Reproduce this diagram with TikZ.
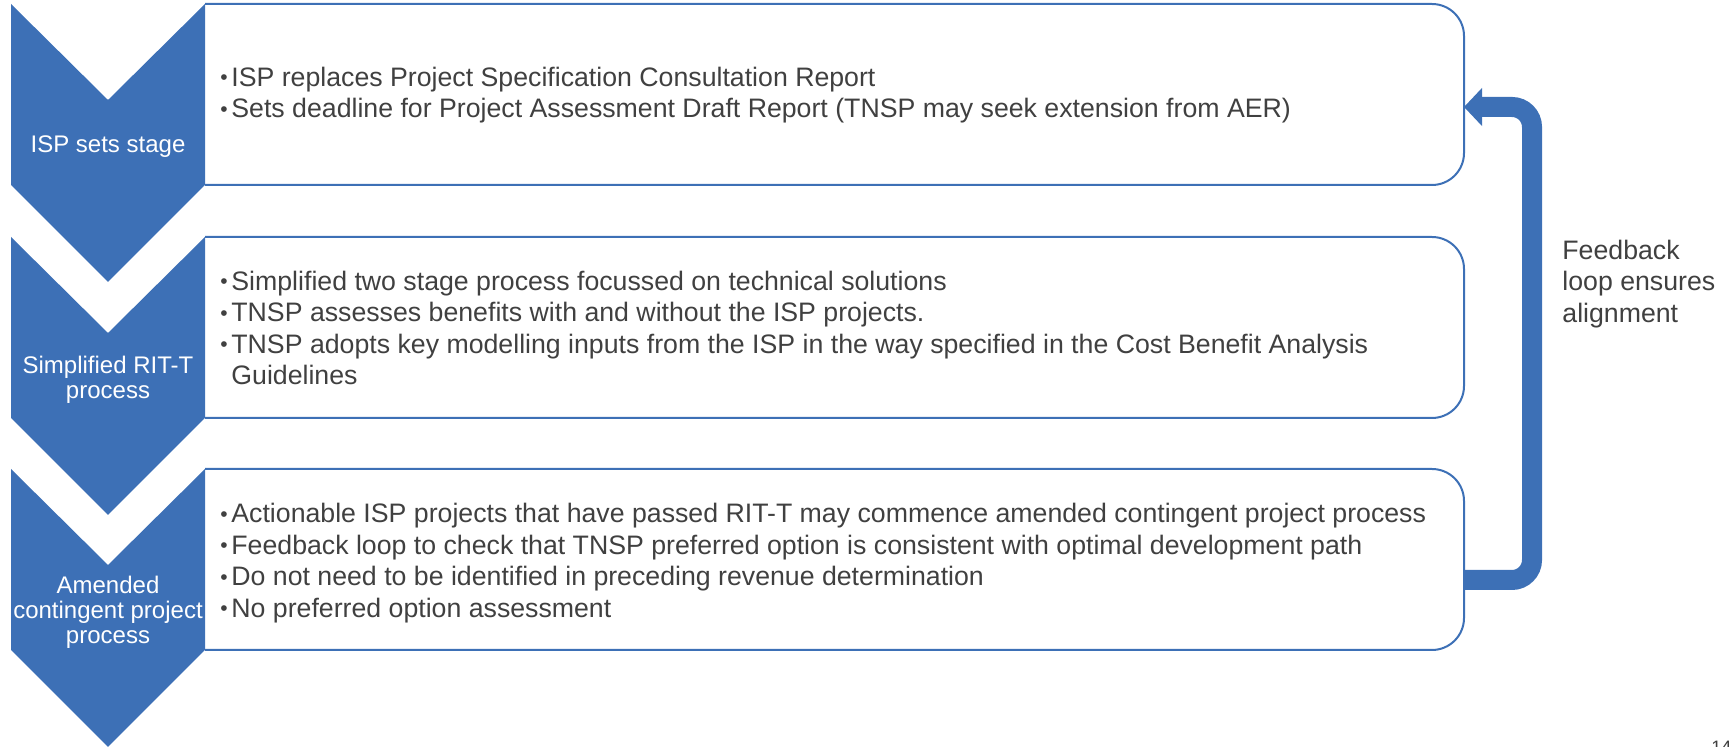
\documentclass[tikz,border=0pt]{standalone}
\usepackage{fontspec}
\setmainfont{Liberation Sans}
\usetikzlibrary{arrows.meta}

\definecolor{stageblue}{RGB}{61,112,182}
\definecolor{bodygrey}{RGB}{64,64,64}

\tikzset{
 chevron/.style={fill=stageblue},
 stagebox/.style={draw=stageblue,line width=1pt,rounded corners=16pt},
 stagelabel/.style={text=white,font=\fontsize{12}{12.5}\selectfont,align=center,inner sep=0pt},
 bullets/.style={text=bodygrey,font=\fontsize{13.35}{15.8}\selectfont,align=left,anchor=west,inner sep=0pt},
 loop arrow/.style={draw=stageblue,line width=10pt,rounded corners=10pt,-{Triangle[length=9pt,width=18.5pt]}}
}
\newcommand{\bp}{\makebox[5.5pt][l]{\raisebox{0.7pt}{\fontsize{10.5}{10}\selectfont\textbullet}}}

\begin{document}
\begin{tikzpicture}[x=0.5pt,y=-0.5pt]
 \useasboundingbox (0,0) rectangle (1730,747);
 % chevrons and boxes
 \foreach \t/\lbl/\txt in {4/stageA/{ISP sets stage},
   237/stageB/{Simplified RIT-T\\process},
   469/stageC/{Amended\\contingent project\\process}}{
  \fill[chevron] (11,\t) -- (108,\t+96) -- (205,\t) -- (205,\t+181)
   -- (108,\t+278) -- (11,\t+181) -- cycle;
  \node[stagelabel] (\lbl) at (108,\t+143) {\txt};
  \draw[stagebox] (205,\t) -- (1464,\t) -- (1464,\t+181) -- (205,\t+181);
 }
 % bullet texts
 \node[bullets] (ispText) at (220,95) {\bp ISP replaces Project Specification Consultation Report\\
  \bp Sets deadline for Project Assessment Draft Report (TNSP may seek extension from AER)};
 \node[bullets] (ritText) at (220,328) {\bp Simplified two stage process focussed on technical solutions\\
  \bp TNSP assesses benefits with and without the ISP projects.\\
  \bp TNSP adopts key modelling inputs from the ISP in the way specified in the Cost Benefit Analysis\\
  \hspace*{5.5pt}Guidelines};
 \node[bullets] (cppText) at (220,563) {\bp Actionable ISP projects that have passed RIT-T may commence amended contingent project process\\
  \bp Feedback loop to check that TNSP preferred option is consistent with optimal development path\\
  \bp Do not need to be identified in preceding revenue determination\\
  \bp No preferred option assessment};
 % feedback loop
 \coordinate (fbOut) at (1464,580);
 \coordinate (fbIn) at (1464,107);
 \draw[loop arrow] (fbOut) -- (1532,580) |- (fbIn);
 \node[bullets] (fbText) at (1562,284) {Feedback\\loop ensures\\alignment};
 \node[text=bodygrey,font=\fontsize{9}{9}\selectfont,anchor=north west,inner sep=0pt] (pageNo) at (1711,741) {14};
\end{tikzpicture}
\end{document}
